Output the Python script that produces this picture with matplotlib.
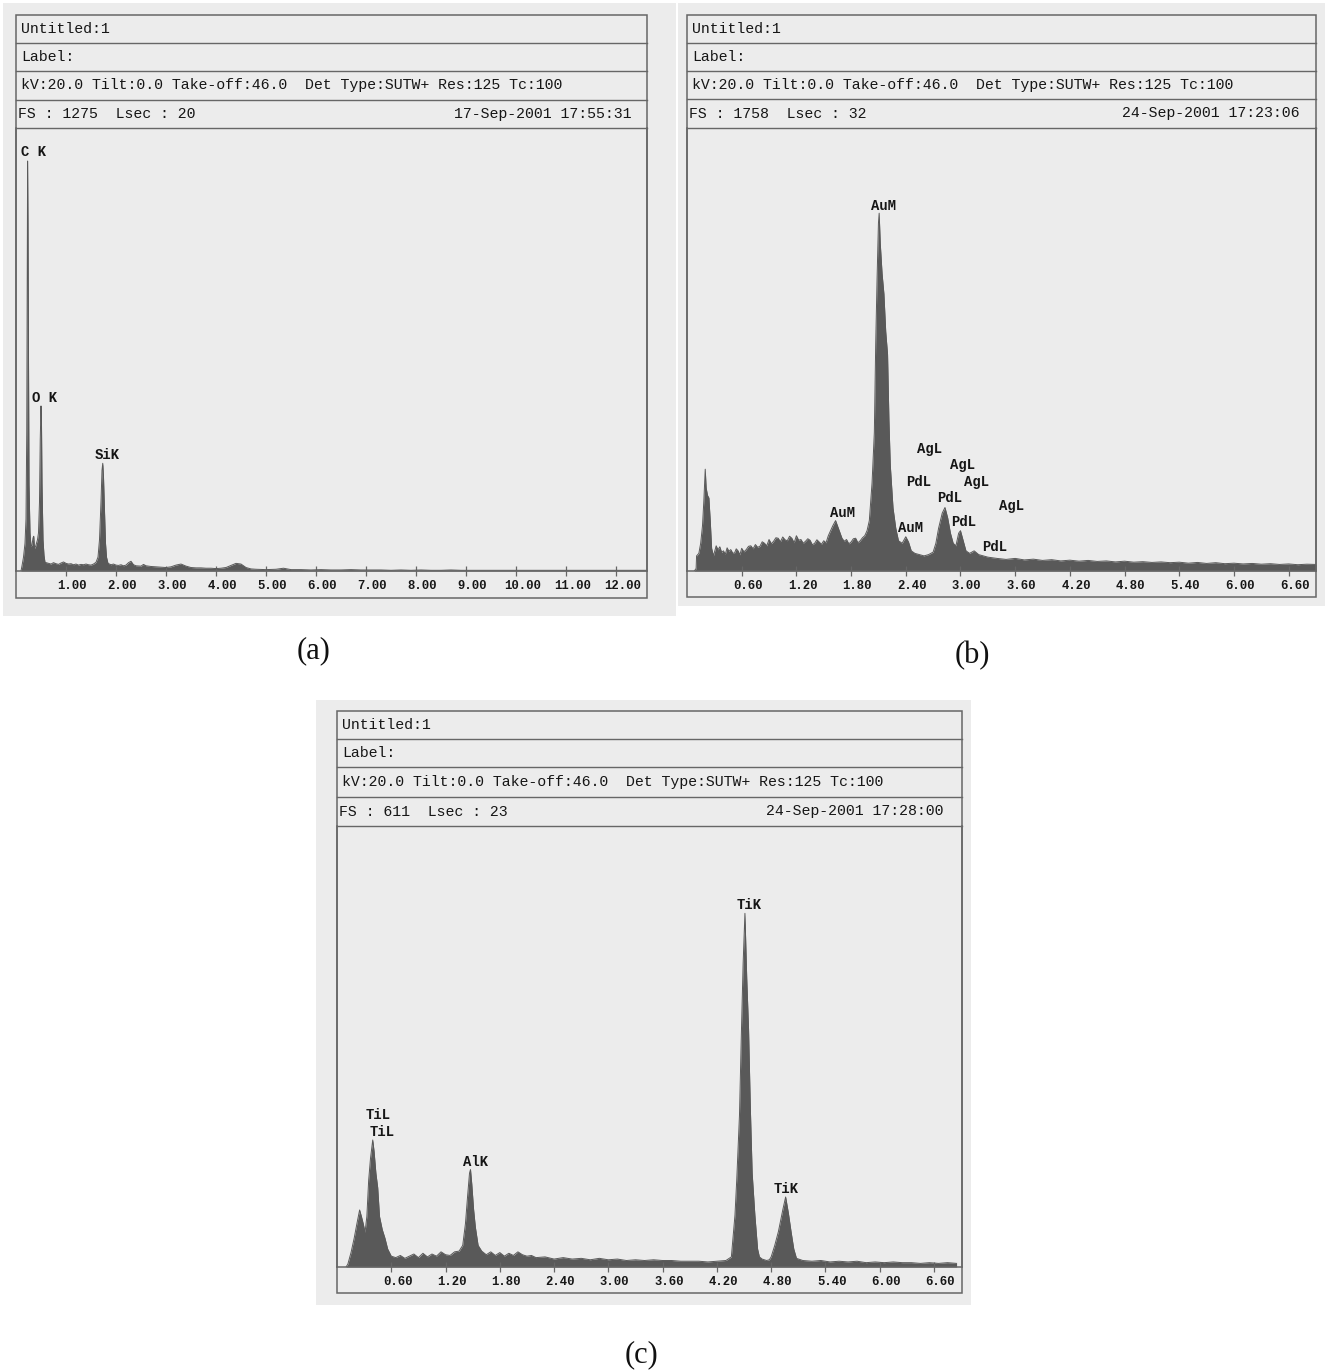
import matplotlib
matplotlib.use("Agg")
import matplotlib.pyplot as plt
from matplotlib.patches import Rectangle

W, H = 1325, 1371
MONO = "Liberation Mono"
PAPER = "#ececec"
INK = "#161616"
RULE = "#666666"
FILL = "#595959"

# ---- panel (a) ----
a_header = ["Untitled:1", "Label:",
            "kV:20.0 Tilt:0.0 Take-off:46.0  Det Type:SUTW+ Res:125 Tc:100",
            "FS : 1275  Lsec : 20", "17-Sep-2001 17:55:31"]
a_fs = 1275
a_xmax = 12.62
a_ticks = [1.00, 2.00, 3.00, 4.00, 5.00, 6.00, 7.00, 8.00, 9.00, 10.00, 11.00, 12.00]
a_energy = [0.10, 0.12, 0.15, 0.18, 0.20, 0.215, 0.225, 0.232, 0.24, 0.25, 0.26, 0.28,
            0.30, 0.32, 0.34, 0.355, 0.37, 0.39, 0.41, 0.43, 0.45, 0.47, 0.485, 0.50,
            0.51, 0.52, 0.54, 0.56, 0.58, 0.65, 0.70, 0.75, 0.80, 0.85, 0.90, 0.95,
            1.00, 1.05, 1.10, 1.15, 1.20, 1.25, 1.30, 1.35, 1.40, 1.45, 1.50, 1.55,
            1.60, 1.64, 1.67, 1.70, 1.72, 1.735, 1.75, 1.77, 1.79, 1.81, 1.84, 1.90,
            1.95, 2.00, 2.05, 2.10, 2.15, 2.20, 2.25, 2.30, 2.35, 2.40, 2.50, 2.55,
            2.60, 2.70, 2.80, 2.90, 3.00, 3.10, 3.20, 3.30, 3.40, 3.50, 3.60, 3.70,
            3.80, 3.90, 4.00, 4.10, 4.20, 4.30, 4.40, 4.50, 4.60, 4.70, 4.80, 5.00,
            5.20, 5.35, 5.50, 5.70, 5.90, 6.10, 6.30, 6.50, 6.70, 6.90, 7.10, 7.30,
            7.50, 7.70, 7.90, 8.10, 8.30, 8.50, 8.70, 8.90, 9.10, 9.30, 9.50, 9.70,
            9.90, 10.10, 10.30, 10.50, 10.70, 10.90, 11.10, 11.30, 11.50, 11.70,
            11.90, 12.10, 12.30, 12.60]
a_counts = [0, 15, 40, 80, 150, 400, 900, 1180, 1000, 600, 250, 110,
            70, 75, 95, 100, 65, 70, 80, 90, 110, 200, 380, 475,
            420, 250, 90, 45, 25, 22, 20, 24, 21, 19, 23, 26,
            22, 20, 21, 18, 20, 17, 19, 18, 20, 18, 17, 20,
            25, 40, 90, 200, 290, 310, 270, 170, 80, 40, 22, 18,
            20, 17, 16, 18, 15, 17, 24, 28, 18, 15, 14, 19,
            15, 13, 12, 11, 10, 12, 17, 20, 14, 10, 9, 9,
            8, 8, 7, 8, 10, 16, 22, 20, 10, 6, 5, 4,
            5, 8, 4, 4, 3, 4, 3, 3, 4, 3, 3, 3,
            2, 3, 2, 3, 2, 2, 3, 2, 2, 2, 2, 2,
            2, 2, 2, 2, 2, 2, 2, 2, 2, 2,
            2, 2, 2, 2]
a_labels = ["C K", "O K", "SiK"]
a_label_e = [0.35, 0.58, 1.83]
a_label_c = [1206, 499, 334]

# ---- panel (b) ----
b_header = ["Untitled:1", "Label:",
            "kV:20.0 Tilt:0.0 Take-off:46.0  Det Type:SUTW+ Res:125 Tc:100",
            "FS : 1758  Lsec : 32", "24-Sep-2001 17:23:06"]
b_fs = 1758
b_xmax = 6.90
b_ticks = [0.60, 1.20, 1.80, 2.40, 3.00, 3.60, 4.20, 4.80, 5.40, 6.00, 6.60]
b_energy = [0.08, 0.10, 0.105, 0.13, 0.15, 0.17, 0.185, 0.20, 0.21, 0.225, 0.24, 0.255,
            0.27, 0.29, 0.32, 0.34, 0.36, 0.38, 0.40, 0.42, 0.44, 0.46, 0.48, 0.50,
            0.52, 0.54, 0.56, 0.58, 0.60, 0.625, 0.65, 0.675, 0.70, 0.725, 0.75, 0.775,
            0.80, 0.825, 0.85, 0.875, 0.90, 0.925, 0.95, 0.975, 1.00, 1.025, 1.05, 1.075,
            1.10, 1.125, 1.15, 1.175, 1.20, 1.225, 1.25, 1.275, 1.30, 1.325, 1.35, 1.375,
            1.40, 1.425, 1.45, 1.475, 1.50, 1.525, 1.55, 1.60, 1.63, 1.66, 1.70, 1.725,
            1.75, 1.775, 1.80, 1.825, 1.85, 1.875, 1.90, 1.925, 1.95, 1.975,
            2.00, 2.03, 2.055, 2.07, 2.085, 2.10, 2.108, 2.12, 2.14, 2.16,
            2.18, 2.20, 2.215, 2.23, 2.26, 2.29, 2.32, 2.36, 2.40, 2.43, 2.46, 2.50,
            2.55, 2.60, 2.65, 2.70, 2.73, 2.76, 2.80, 2.83, 2.86, 2.89, 2.92, 2.95,
            2.98, 3.00, 3.03, 3.06, 3.10, 3.15, 3.20, 3.25, 3.30, 3.40, 3.50, 3.60,
            3.70, 3.80, 3.90, 4.00, 4.10, 4.20, 4.30, 4.40, 4.50, 4.60, 4.70, 4.80,
            4.90, 5.00, 5.10, 5.20, 5.30, 5.40, 5.50, 5.60, 5.70, 5.80, 5.90, 6.00,
            6.10, 6.20, 6.30, 6.40, 6.50, 6.60, 6.70, 6.80, 6.90]
b_counts = [0, 10, 60, 70, 110, 180, 280, 404, 330, 300, 290, 200,
            90, 60, 100, 84, 96, 74, 80, 66, 92, 78, 85, 72,
            70, 88, 80, 64, 90, 76, 85, 98, 100, 88, 105, 94,
            98, 116, 110, 100, 125, 108, 118, 132, 130, 116, 135, 124,
            120, 138, 130, 112, 140, 122, 125, 110, 118, 128, 122, 104,
            110, 124, 115, 106, 120, 112, 140, 180, 200, 170, 130, 118,
            125, 108, 115, 128, 130, 112, 120, 132, 140, 160,
            200, 350, 550, 900, 1160, 1380, 1420, 1300, 1180, 1100,
            950, 860, 600, 420, 250, 170, 120, 110, 136, 115, 80, 70,
            65, 60, 65, 75, 110, 170, 230, 252, 210, 150, 110, 100,
            150, 160, 120, 80, 70, 80, 65, 60, 55, 50, 46, 50,
            44, 47, 42, 45, 40, 43, 39, 42, 38, 40, 36, 39,
            35, 37, 34, 36, 33, 35, 31, 34, 30, 33, 29, 31,
            28, 30, 27, 29, 26, 28, 25, 27, 26]
b_labels = ["AuM", "AgL", "AgL", "PdL", "AgL", "PdL", "AgL", "AuM", "PdL", "AuM", "PdL"]
b_label_e = [2.16, 2.66, 3.02, 2.54, 3.18, 2.88, 3.56, 1.71, 3.04, 2.45, 3.38]
b_label_c = [1448, 484, 420, 352, 352, 288, 256, 232, 196, 172, 96]

# ---- panel (c) ----
c_header = ["Untitled:1", "Label:",
            "kV:20.0 Tilt:0.0 Take-off:46.0  Det Type:SUTW+ Res:125 Tc:100",
            "FS : 611  Lsec : 23", "24-Sep-2001 17:28:00"]
c_fs = 611
c_xmax = 6.91
c_ticks = [0.60, 1.20, 1.80, 2.40, 3.00, 3.60, 4.20, 4.80, 5.40, 6.00, 6.60]
c_energy = [0.10, 0.12, 0.155, 0.19, 0.22, 0.25, 0.27, 0.29, 0.31, 0.33, 0.35, 0.37,
            0.395, 0.41, 0.43, 0.45, 0.47, 0.50, 0.53, 0.56, 0.60, 0.65, 0.70, 0.75,
            0.80, 0.85, 0.90, 0.95, 1.00, 1.05, 1.10, 1.15, 1.20, 1.25, 1.30, 1.35,
            1.39, 1.42, 1.445, 1.465, 1.476, 1.49, 1.51, 1.53, 1.56, 1.60, 1.65, 1.70,
            1.75, 1.80, 1.85, 1.90, 1.95, 2.00, 2.05, 2.10, 2.15, 2.20, 2.30, 2.40,
            2.50, 2.60, 2.70, 2.80, 2.90, 3.00, 3.10, 3.20, 3.30, 3.40, 3.50, 3.60,
            3.70, 3.80, 3.90, 4.00, 4.10, 4.20, 4.30, 4.36, 4.40, 4.42, 4.45, 4.47,
            4.49, 4.51, 4.53, 4.55, 4.57, 4.59, 4.62, 4.65, 4.67, 4.70, 4.75, 4.78,
            4.80, 4.84, 4.88, 4.93, 4.96, 4.99, 5.02, 5.05, 5.08, 5.15, 5.25, 5.35,
            5.45, 5.55, 5.65, 5.75, 5.85, 5.95, 6.05, 6.15, 6.25, 6.35, 6.45, 6.55,
            6.65, 6.75, 6.85]
c_counts = [0, 4, 20, 40, 60, 79, 70, 60, 48, 70, 120, 150,
            176, 160, 130, 110, 70, 52, 40, 25, 15, 13, 16, 12,
            15, 18, 13, 19, 14, 18, 15, 21, 17, 16, 21, 22,
            30, 60, 100, 130, 135, 115, 80, 55, 30, 22, 17, 21,
            16, 20, 15, 19, 16, 21, 17, 15, 16, 13, 14, 11,
            13, 11, 12, 10, 12, 10, 11, 9, 10, 9, 10, 9,
            9, 8, 8, 8, 7, 8, 9, 14, 72, 122, 211, 320,
            420, 490, 400, 330, 220, 130, 72, 25, 14, 11, 9, 10,
            14, 30, 49, 80, 97, 75, 49, 25, 12, 9, 8, 9,
            7, 8, 7, 8, 6, 7, 6, 7, 6, 6, 5, 6,
            5, 6, 5]
c_labels = ["TiL", "TiL", "AlK", "TiK", "TiK"]
c_label_e = [0.46, 0.50, 1.53, 4.56, 4.97]
c_label_c = [211, 187, 146, 501, 108]

# page layout in pixels: paper, box, header row lines, axis line
LAYOUT = {
    "a": dict(paper=(3, 3, 676, 616), box=(16, 15, 647, 598), rows=(43, 71, 100, 128),
              axis=571, date_right=631, caption=(314, 651)),
    "b": dict(paper=(678, 3, 1325, 606), box=(687, 15, 1316, 597), rows=(43, 71, 99, 128),
              axis=571, date_right=1299, caption=(972, 656)),
    "c": dict(paper=(316, 700, 971, 1305), box=(337, 711, 962, 1293), rows=(739, 767, 797, 826),
              axis=1267, date_right=944, caption=(641, 1355)),
}


def px_rect(left, top, right, bottom):
    return [left / W, 1 - bottom / H, (right - left) / W, (bottom - top) / H]


def draw_panel(fig, key, header, energy, counts, fs, xmax, ticks, labels, label_e, label_c):
    lay = LAYOUT[key]
    pl, pt, pr, pb = lay["paper"]
    page = fig.add_axes(px_rect(pl, pt, pr, pb))
    page.set_xlim(pl, pr)
    page.set_ylim(pb, pt)
    page.set_facecolor(PAPER)
    page.set_xticks([])
    page.set_yticks([])
    for s in page.spines.values():
        s.set_visible(False)

    bl, bt, br, bb = lay["box"]
    page.add_patch(Rectangle((bl, bt), br - bl, bb - bt, fill=False, ec=RULE, lw=1.1))
    rows = (bt,) + lay["rows"]
    for y in lay["rows"]:
        page.plot([bl, br], [y, y], color=RULE, lw=1.0)
    centers = [(rows[i] + rows[i + 1]) / 2 for i in range(4)]
    text_kw = dict(family=MONO, fontsize=10.7, color=INK, va="center")
    for i in range(3):
        page.text(bl + 5, centers[i], header[i], ha="left", **text_kw)
    page.text(bl + 2, centers[3], header[3], ha="left", **text_kw)
    page.text(lay["date_right"], centers[3], header[4], ha="right", **text_kw)

    ax = fig.add_axes(px_rect(bl, lay["rows"][-1], br, lay["axis"]))
    ax.set_facecolor("none")
    ax.set_xlim(0, xmax)
    ax.set_ylim(0, fs)
    ax.fill_between(energy, counts, 0, color=FILL, lw=0)
    ax.plot(energy, counts, color=FILL, lw=0.7)
    ax.spines["top"].set_visible(False)
    for s in ("left", "right", "bottom"):
        ax.spines[s].set_color(RULE)
        ax.spines[s].set_linewidth(1.1)
    ax.set_yticks([])
    ax.set_xticks(ticks)
    ax.tick_params(axis="x", direction="inout", length=7, width=0.9, color=RULE,
                   labelbottom=False)
    for t in ticks:
        ax.annotate(f"{t:.2f}", (t, 0), xytext=(4.5, -10.5), textcoords="offset points",
                    ha="center", va="center", family=MONO, fontsize=8.8,
                    fontweight="bold", color=INK, annotation_clip=False)
    for lab, e, c in zip(labels, label_e, label_c):
        ax.text(e, c, lab, ha="center", va="center", family=MONO, fontsize=10,
                fontweight="bold", color=INK)

    cx, cy = lay["caption"]
    fig.text(cx / W, 1 - cy / H, f"({key})", family="Liberation Serif", fontsize=22,
             ha="center", va="center", color="#111111")


fig = plt.figure(figsize=(W / 100, H / 100), dpi=100)
fig.patch.set_facecolor("white")
draw_panel(fig, "a", a_header, a_energy, a_counts, a_fs, a_xmax, a_ticks,
           a_labels, a_label_e, a_label_c)
draw_panel(fig, "b", b_header, b_energy, b_counts, b_fs, b_xmax, b_ticks,
           b_labels, b_label_e, b_label_c)
draw_panel(fig, "c", c_header, c_energy, c_counts, c_fs, c_xmax, c_ticks,
           c_labels, c_label_e, c_label_c)
fig.savefig("out.png", dpi=100, facecolor="white")
